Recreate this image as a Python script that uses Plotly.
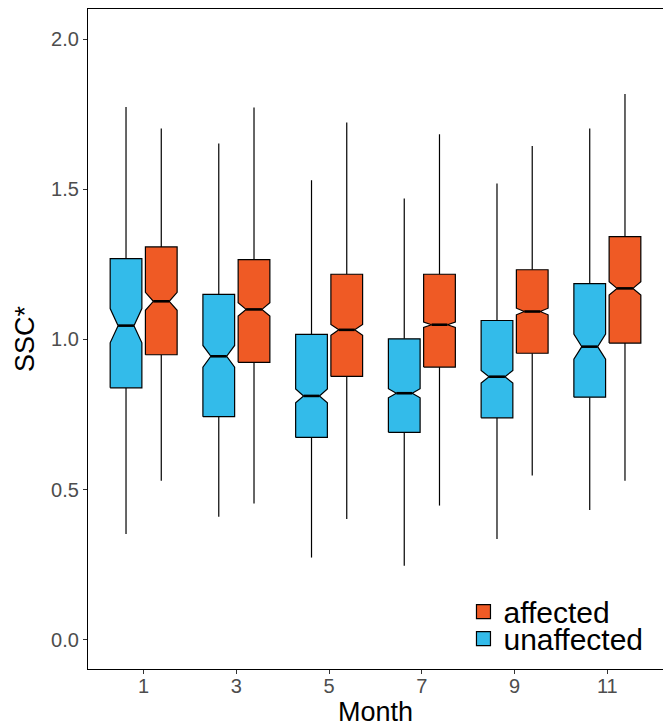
import plotly.graph_objects as go

months = ["1", "3", "5", "7", "9", "11"]

# unaffected (blue)
un_upper = [1.774, 1.652, 1.530, 1.469, 1.519, 1.702]
un_q3 = [1.269, 1.150, 1.017, 1.002, 1.063, 1.186]
un_med = [1.046, 0.944, 0.812, 0.821, 0.876, 0.976]
un_q1 = [0.839, 0.743, 0.674, 0.691, 0.739, 0.808]
un_lower = [0.352, 0.410, 0.274, 0.247, 0.336, 0.432]
un_notch = [0.057, 0.036, 0.023, 0.015, 0.021, 0.042]

# affected (orange)
af_upper = [1.702, 1.772, 1.722, 1.683, 1.644, 1.817]
af_q3 = [1.308, 1.266, 1.217, 1.217, 1.232, 1.342]
af_med = [1.127, 1.100, 1.032, 1.049, 1.093, 1.170]
af_q1 = [0.949, 0.924, 0.877, 0.908, 0.954, 0.988]
af_lower = [0.530, 0.454, 0.402, 0.447, 0.547, 0.530]
af_notch = [0.030, 0.022, 0.018, 0.009, 0.011, 0.022]

y_ticks = [0.0, 0.5, 1.0, 1.5, 2.0]
y_ticklabels = ["0.0", "0.5", "1.0", "1.5", "2.0"]

FONT = "Liberation Sans, Arial, Helvetica, sans-serif"
BLUE = "#33BBEA"
ORANGE = "#EF5A25"

DODGE = 0.19      # offset of each box from the month position (category units)
HALF = 0.171      # half box width (category units)
NOTCH_W = 0.5     # notch inner width relative to box width


def box_traces(name, color, offset, q1, med, q3, lo, hi, ns, legend_id):
    px, py = [], []
    wx, wy = [], []
    mx, my = [], []
    for i in range(len(months)):
        c = i + offset
        l, r = c - HALF, c + HALF
        li, ri = c - HALF * NOTCH_W, c + HALF * NOTCH_W
        px += [l, l, li, l, l, r, r, ri, r, r, l, None]
        py += [q1[i], med[i] - ns[i], med[i], med[i] + ns[i], q3[i],
               q3[i], med[i] + ns[i], med[i], med[i] - ns[i], q1[i], q1[i], None]
        wx += [c, c, None, c, c, None]
        wy += [q3[i], hi[i], None, q1[i], lo[i], None]
        mx += [li, ri, None]
        my += [med[i], med[i], None]
    whisk = go.Scatter(x=wx, y=wy, mode="lines", line=dict(color="black", width=1.2),
                       showlegend=False, hoverinfo="skip")
    body = go.Scatter(x=px, y=py, mode="lines", fill="toself", fillcolor=color,
                      line=dict(color="black", width=1.2), name=name,
                      showlegend=False, hoverinfo="skip")
    medl = go.Scatter(x=mx, y=my, mode="lines", line=dict(color="black", width=2.6),
                      showlegend=False, hoverinfo="skip")
    key = go.Scatter(x=[None], y=[None], mode="markers", name=name,
                     marker=dict(symbol="square", size=14, color=color,
                                 line=dict(color="black", width=1.2)),
                     legend=legend_id, showlegend=True)
    return [whisk, body, medl, key]


fig = go.Figure()
for t in box_traces("unaffected", BLUE, -DODGE, un_q1, un_med, un_q3,
                    un_lower, un_upper, un_notch, "legend2"):
    fig.add_trace(t)
for t in box_traces("affected", ORANGE, DODGE, af_q1, af_med, af_q3,
                    af_lower, af_upper, af_notch, "legend"):
    fig.add_trace(t)

leg_common = dict(
    x=0.653, xanchor="left", yanchor="middle",
    bgcolor="rgba(0,0,0,0)",
    font=dict(size=30, family=FONT, color="black"),
    itemwidth=30,
)

# page body has an 8px margin: figure is sized/offset to compensate
fig.update_layout(
    width=663, height=719,
    margin=dict(l=80, r=8, t=1, b=58),
    paper_bgcolor="white", plot_bgcolor="white",
    font=dict(family=FONT, color="black"),
    legend=dict(y=0.087, **leg_common),
    legend2=dict(y=0.046, **leg_common),
    xaxis=dict(
        range=[-0.6, len(months) - 0.4],
        tickvals=list(range(len(months))), ticktext=months,
        showline=True, mirror=True, linecolor="black", linewidth=1.2,
        ticks="outside", ticklen=4, tickcolor="#333333", tickwidth=1,
        tickfont=dict(size=20, color="#4d4d4d", family=FONT),
        ticklabelstandoff=-5,
        showgrid=False, zeroline=False,
        title=dict(text="Month", font=dict(size=27, color="black", family=FONT), standoff=7),
        automargin=False,
    ),
    yaxis=dict(
        range=[-0.097, 2.1],
        tickvals=y_ticks, ticktext=y_ticklabels,
        showline=True, mirror=True, linecolor="black", linewidth=1.2,
        ticks="outside", ticklen=4, tickcolor="#333333", tickwidth=1,
        tickfont=dict(size=20, color="#4d4d4d", family=FONT),
        showgrid=False, zeroline=False,
        title=dict(text="SSC*", font=dict(size=27, color="black", family=FONT), standoff=8),
        automargin=False,
    ),
)

fig.write_html("out.html")
